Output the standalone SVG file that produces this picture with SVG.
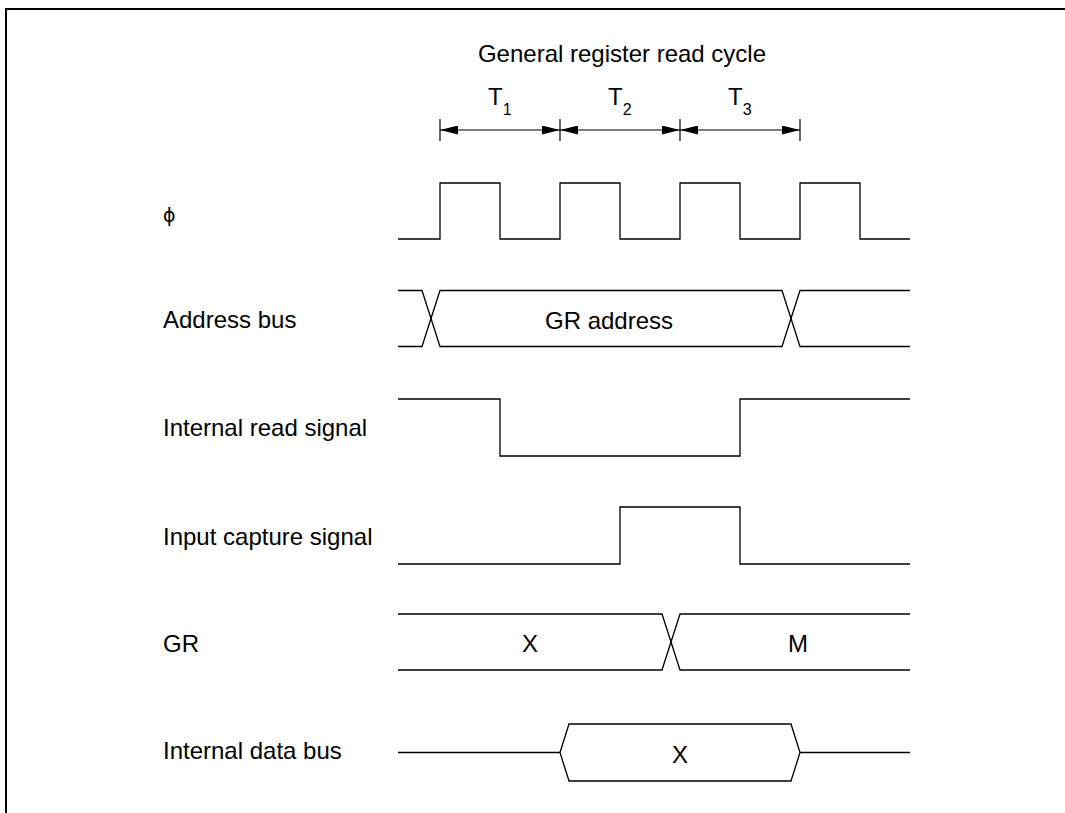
<svg xmlns="http://www.w3.org/2000/svg" width="1065" height="813" viewBox="0 0 1065 813">
<style>
  text { font-family: "Liberation Sans", Arial, sans-serif; font-size: 24px; fill: #000; }
  .sub { font-size: 16px; }
  .mid { text-anchor: middle; }
  .phi { font-family: "DejaVu Sans", sans-serif; font-size: 19px; }
  .wave { fill: none; stroke: #000; stroke-width: 1.3; }
  .dim { fill: none; stroke: #000; stroke-width: 1.2; }
</style>
<defs>
  <marker id="ah" viewBox="0 0 18 9" refX="18" refY="4.5" markerWidth="18" markerHeight="9" markerUnits="userSpaceOnUse" orient="auto-start-reverse">
    <path d="M0,0 L18,4.5 L0,9 Z" fill="#000"/>
  </marker>
</defs>
<rect width="1065" height="813" fill="#fff"/>
<path d="M6,813 V9 H1065" fill="none" stroke="#000" stroke-width="2"/>

<g id="title">
  <text class="mid" x="622" y="62">General register read cycle</text>
</g>

<g id="states">
  <text x="488" y="105">T<tspan class="sub" dy="10">1</tspan></text>
  <text x="608" y="105">T<tspan class="sub" dy="10">2</tspan></text>
  <text x="728" y="105">T<tspan class="sub" dy="10">3</tspan></text>
</g>

<g id="connectors">
  <path class="dim" d="M440,119 V141 M560,119 V141 M680,119 V141 M800,119 V141"/>
  <line class="dim" x1="440" y1="130" x2="560" y2="130" marker-start="url(#ah)" marker-end="url(#ah)"/>
  <line class="dim" x1="560" y1="130" x2="680" y2="130" marker-start="url(#ah)" marker-end="url(#ah)"/>
  <line class="dim" x1="680" y1="130" x2="800" y2="130" marker-start="url(#ah)" marker-end="url(#ah)"/>
</g>

<g id="phi">
  <text class="phi" x="163" y="222">ϕ</text>
  <path class="wave" d="M398,239 H440 V183 H500 V239 H560 V183 H620 V239 H680 V183 H740 V239 H800 V183 H860 V239 H910"/>
</g>

<g id="address-bus">
  <text x="163" y="328">Address bus</text>
  <path class="wave" d="M398,290.5 H422 L440,346.5 H782 L800,290.5 H910"/>
  <path class="wave" d="M398,346.5 H422 L440,290.5 H782 L800,346.5 H910"/>
  <text class="mid" x="609" y="329">GR address</text>
</g>

<g id="internal-read-signal">
  <text x="163" y="436">Internal read signal</text>
  <path class="wave" d="M398,399 H500 V456 H740 V399 H910"/>
</g>

<g id="input-capture-signal">
  <text x="163" y="545">Input capture signal</text>
  <path class="wave" d="M398,564 H620 V507 H740 V564 H910"/>
</g>

<g id="gr">
  <text x="163" y="652">GR</text>
  <path class="wave" d="M398,614 H662 L680,670 H910"/>
  <path class="wave" d="M398,670 H662 L680,614 H910"/>
  <text class="mid" x="530" y="652">X</text>
  <text class="mid" x="798" y="652">M</text>
</g>

<g id="internal-data-bus">
  <text x="163" y="759">Internal data bus</text>
  <path class="wave" d="M398,752.5 H560 M800,752.5 H910"/>
  <path class="wave" d="M560,752.5 L569,724 H791 L800,752.5 L791,781 H569 Z"/>
  <text class="mid" x="680" y="763">X</text>
</g>
</svg>
